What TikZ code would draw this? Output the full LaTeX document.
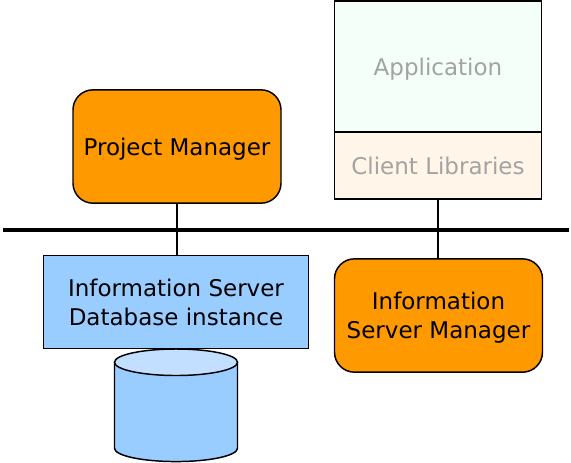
\documentclass[tikz,border=0pt]{standalone}
\usepackage{tikz}
\usepackage{xcolor}
\usepackage{fontspec}
\setmainfont{DejaVu Sans}
\definecolor{MgrOrange}{HTML}{FF9900}
\definecolor{DbBlue}{HTML}{99CCFF}
\definecolor{DbTop}{HTML}{C2DFFF}
\definecolor{AppMint}{HTML}{F5FFFA}
\definecolor{LibCream}{HTML}{FFF5E8}
\definecolor{FadedText}{HTML}{A3A3A3}

\begin{document}
\begin{tikzpicture}[
    x=0.75pt, y=-0.75pt,
    box/.style={draw, line width=1.1pt, align=center, inner sep=0pt, text depth=0pt, font=\fontsize{17.25}{21.5}\selectfont},
    manager/.style={box, fill=MgrOrange, rounded corners=15pt},
    link/.style={draw, line width=1.1pt}
  ]
    \useasboundingbox (0,0) rectangle (571,462);
    % disk sits behind the instance box
    \draw[line width=1.1pt, fill=DbBlue] (114.5,362.25) -- (114.5,448.3) arc[start angle=180, end angle=0, x radius=61.5, y radius=13.25] -- (237.5,362.25) -- cycle;
    \draw[line width=1.1pt, fill=DbTop] (176,362.25) ellipse[x radius=61.5, y radius=13.25];

    \node[manager, minimum width=156pt, minimum height=85pt] (pm) at (177,146.5) {Project Manager};
    \node[box, fill=AppMint, text=FadedText, minimum width=155.5pt, minimum height=98.5pt] (app) at (438,66.5) {Application};
    \node[box, fill=LibCream, text=FadedText, minimum width=155.5pt, minimum height=50pt] (clientlibs) at (438,165.5) {Client Libraries};
    \node[box, fill=DbBlue, minimum width=198.5pt, minimum height=70pt] (dbinst) at (176,302) {Information Server\\Database instance};
    \node[manager, minimum width=156pt, minimum height=85pt] (ism) at (438.5,315.5) {Information\\Server Manager};

    \coordinate (busleft) at (3,229.5);
    \coordinate (busright) at (569,229.5);

    \draw[line width=3pt] (busleft) -- (busright);
    \draw[link] (pm.south) -- (pm.south |- dbinst.north);
    \draw[link] (clientlibs.south) -- (clientlibs.south |- ism.north);
  \end{tikzpicture}
\end{document}
